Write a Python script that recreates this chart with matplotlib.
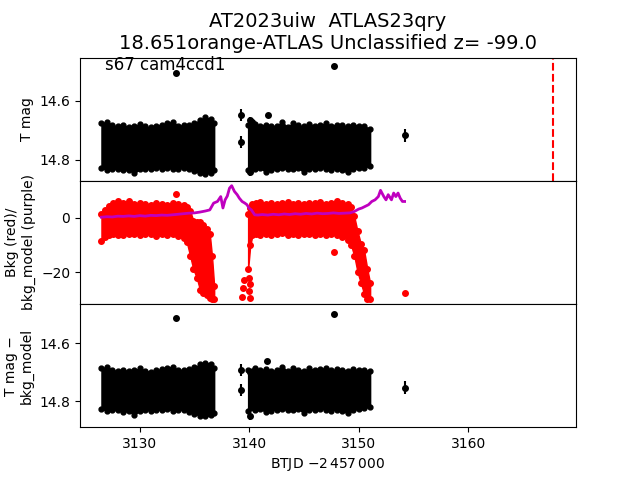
"""TESS light curve of AT2023uiw: raw mag, background vs model, and background-corrected mag."""

import matplotlib

matplotlib.use("Agg")
import matplotlib.pyplot as plt

# --- top panel: T mag, dense band drawn as its upper/lower envelope
mag1_t = [3126.5, 3127.0, 3127.5, 3128.0, 3128.5, 3129.0, 3129.5, 3130.0, 3130.5, 3131.0, 3131.5,
          3132.0, 3132.5, 3133.0, 3133.5, 3134.0, 3134.5, 3135.0, 3135.5, 3136.0, 3136.5, 3136.8]
mag1_hi = [14.676, 14.670, 14.683, 14.685, 14.682, 14.688, 14.685, 14.678, 14.686, 14.690, 14.684,
           14.680, 14.676, 14.670, 14.684, 14.682, 14.680, 14.676, 14.664, 14.656, 14.660, 14.676]
mag1_lo = [14.828, 14.834, 14.832, 14.830, 14.836, 14.834, 14.844, 14.832, 14.830, 14.832, 14.828,
           14.830, 14.826, 14.832, 14.830, 14.828, 14.832, 14.838, 14.846, 14.848, 14.844, 14.836]
mag2_t = [3139.9, 3140.5, 3141.0, 3141.5, 3142.0, 3142.5, 3143.0, 3143.5, 3144.0, 3144.5, 3145.0,
          3145.5, 3146.0, 3146.5, 3147.0, 3147.5, 3148.0, 3148.5, 3149.0, 3149.5, 3150.0, 3150.5, 3151.05]
mag2_hi = [14.680, 14.678, 14.684, 14.680, 14.686, 14.684, 14.672, 14.688, 14.676, 14.682, 14.686,
           14.678, 14.684, 14.680, 14.676, 14.684, 14.680, 14.682, 14.686, 14.680, 14.684, 14.686, 14.694]
mag2_lo = [14.836, 14.832, 14.828, 14.840, 14.836, 14.830, 14.828, 14.832, 14.830, 14.828, 14.842,
           14.830, 14.832, 14.828, 14.830, 14.834, 14.830, 14.836, 14.842, 14.832, 14.828, 14.826, 14.820]
mag_out_t = [3133.35, 3147.75, 3139.25, 3139.25, 3140.1, 3140.3, 3141.68, 3154.2, 3140.05]
mag_out = [14.506, 14.483, 14.647, 14.740, 14.664, 14.672, 14.647, 14.716, 14.840]
mag_out_err = [0.006, 0.006, 0.020, 0.020, 0.010, 0.010, 0.006, 0.022, 0.015]
discovery_t = 3167.8

# --- middle panel: background (red) and background model (purple)
bkg1_t = [3126.5, 3126.8, 3127.2, 3127.6, 3128.0, 3128.5, 3129.0, 3129.5, 3130.0, 3130.5, 3131.0,
          3131.5, 3132.0, 3132.5, 3133.0, 3133.5, 3134.0, 3134.3, 3134.6, 3134.9, 3135.2, 3135.5,
          3135.8, 3136.1, 3136.4, 3136.6, 3136.8]
bkg1_hi = [1.5, 3.0, 4.5, 5.4, 6.0, 5.5, 6.2, 5.0, 5.6, 5.2, 4.8, 5.5, 5.0, 4.6, 5.4, 5.0, 4.8, 4.0,
           2.5, -1.0, -1.5, -1.4, -2.5, -4.0, -6.0, -14.0, -25.0]
bkg1_lo = [-8.5, -7.0, -6.5, -6.0, -6.5, -6.2, -5.8, -6.0, -6.4, -5.8, -6.0, -6.6, -5.9, -6.2, -6.0,
           -6.8, -7.5, -9.0, -14.0, -19.0, -22.0, -26.5, -27.5, -28.5, -29.5, -30.0, -30.0]
bkg2_t = [3139.9, 3140.1, 3140.3, 3140.6, 3141.0, 3141.5, 3142.0, 3142.5, 3143.0, 3143.5, 3144.0,
          3144.5, 3145.0, 3145.5, 3146.0, 3146.5, 3147.0, 3147.5, 3148.0, 3148.5, 3149.0, 3149.3,
          3149.6, 3149.9, 3150.2, 3150.5, 3150.8, 3151.05]
bkg2_hi = [1.5, 3.5, 5.0, 5.4, 5.8, 5.2, 5.6, 5.0, 5.4, 5.8, 5.2, 5.5, 5.0, 5.6, 5.3, 5.8, 5.0, 5.5,
           6.2, 5.4, 5.0, 4.0, 0.5, -5.0, -9.5, -12.0, -19.0, -24.0]
bkg2_lo = [-19.0, -10.0, -6.5, -6.0, -6.3, -5.8, -6.5, -6.0, -5.7, -6.2, -6.0, -6.4, -5.8, -6.1, -6.5,
           -5.9, -6.2, -6.0, -6.4, -7.0, -8.0, -10.0, -14.0, -20.0, -24.0, -28.0, -30.0, -30.0]
bkg_out_t = [3133.35, 3139.35, 3139.45, 3139.5, 3139.95, 3140.05, 3139.95, 3140.1, 3147.75, 3154.25]
bkg_out = [8.8, -29.2, -25.8, -22.8, -22.0, -24.5, -27.0, -29.5, -12.4, -27.7]
model_t = [3126.5, 3127.0, 3127.5, 3128.0, 3128.5, 3129.0, 3129.5, 3130.0, 3130.5, 3131.0, 3131.5,
           3132.0, 3132.5, 3133.0, 3133.5, 3134.0, 3134.5, 3135.0, 3135.5, 3136.0, 3136.4, 3136.75,
           3137.1, 3137.4, 3137.6, 3137.8, 3138.0, 3138.2, 3138.4, 3138.65, 3138.9, 3139.1, 3139.35,
           3139.6, 3139.8, 3140.0, 3140.2, 3140.5, 3140.8, 3141.2, 3141.7, 3142.2, 3142.7, 3143.2,
           3143.7, 3144.2, 3144.7, 3145.2, 3145.7, 3146.2, 3146.7, 3147.2, 3147.7, 3148.2, 3148.7,
           3149.2, 3149.6, 3150.0, 3150.3, 3150.6, 3150.9, 3151.2, 3151.5, 3151.8, 3152.0, 3152.3,
           3152.5, 3152.7, 3153.0, 3153.2, 3153.4, 3153.6, 3153.8, 3154.0, 3154.2]
model_bkg = [0.2, 0.4, 0.3, 0.6, 0.5, 0.7, 0.5, 0.8, 0.6, 0.9, 0.8, 1.0, 0.9, 1.1, 1.3, 1.5, 1.7,
             1.8, 2.1, 2.5, 2.9, 5.4, 6.0, 7.8, 3.6, 6.6, 8.0, 10.9, 11.8, 9.7, 8.5, 7.2, 6.0, 5.4,
             4.8, 3.5, 2.9, 1.1, 1.0, 1.2, 1.0, 1.3, 1.1, 1.4, 1.2, 1.5, 1.3, 1.6, 1.4, 1.7, 1.5,
             1.6, 1.8, 1.6, 1.7, 1.8, 2.3, 3.2, 3.6, 4.2, 4.8, 6.0, 6.6, 7.8, 10.1, 7.8, 6.6, 8.5,
             6.6, 9.1, 7.8, 9.1, 7.2, 6.0, 6.0]

# --- bottom panel: T mag - bkg_model
det1_hi = [14.686, 14.680, 14.692, 14.694, 14.690, 14.696, 14.692, 14.686, 14.694, 14.698, 14.692,
           14.688, 14.684, 14.680, 14.692, 14.690, 14.688, 14.682, 14.672, 14.666, 14.670, 14.684]
det1_lo = [14.826, 14.832, 14.830, 14.830, 14.836, 14.834, 14.846, 14.832, 14.830, 14.832, 14.828,
           14.830, 14.826, 14.832, 14.830, 14.828, 14.836, 14.842, 14.850, 14.852, 14.848, 14.840]
det2_hi = [14.690, 14.684, 14.692, 14.688, 14.694, 14.692, 14.680, 14.696, 14.686, 14.690, 14.694,
           14.686, 14.692, 14.688, 14.684, 14.692, 14.688, 14.690, 14.694, 14.688, 14.692, 14.690, 14.696]
det2_lo = [14.832, 14.828, 14.826, 14.836, 14.832, 14.828, 14.826, 14.830, 14.828, 14.826, 14.840,
           14.828, 14.830, 14.826, 14.828, 14.832, 14.828, 14.834, 14.840, 14.830, 14.826, 14.824, 14.818]
det_out_t = [3133.35, 3147.75, 3139.25, 3139.25, 3140.1, 3141.65, 3154.2, 3140.1]
det_out = [14.514, 14.497, 14.692, 14.761, 14.700, 14.659, 14.753, 14.850]
det_out_err = [0.006, 0.006, 0.020, 0.020, 0.010, 0.006, 0.022, 0.015]


def _band(ax, t, hi, lo, color, ms):
    """Dense cloud of points: filled envelope with point-sized bumps on both edges."""
    ax.fill_between(t, lo, hi, facecolor=color, edgecolor=color, lw=1)
    ax.plot(t, hi, "o", color=color, ms=ms)
    ax.plot(t, lo, "o", color=color, ms=ms)


fig, axes = plt.subplots(3, 1, sharex=True, figsize=(6.4, 4.8))
fig.subplots_adjust(hspace=0)
ax1, ax2, ax3 = axes

_band(ax1, mag1_t, mag1_hi, mag1_lo, "k", 3.5)
_band(ax1, mag2_t, mag2_hi, mag2_lo, "k", 3.5)
ax1.errorbar(mag_out_t, mag_out, yerr=mag_out_err, fmt="o", color="k", ms=4)
ax1.axvline(discovery_t, color="r", ls="--", lw=1.5)
ax1.set_ylim(14.871, 14.453)
ax1.set_yticks([14.6, 14.8])
ax1.set_ylabel("T mag")
ax1.text(0.05, 0.9, "s67 cam4ccd1", transform=ax1.transAxes, fontsize=12)
ax1.set_title("AT2023uiw  ATLAS23qry\n18.651orange-ATLAS Unclassified z= -99.0", fontsize=14)

_band(ax2, bkg1_t, bkg1_hi, bkg1_lo, "r", 4)
_band(ax2, bkg2_t, bkg2_hi, bkg2_lo, "r", 4)
ax2.plot(bkg_out_t, bkg_out, "o", color="r", ms=4)
ax2.plot(model_t, model_bkg, color="m", lw=2)
ax2.set_ylim(-31.7, 13.6)
ax2.set_ylabel("Bkg (red)/\nbkg_model (purple)")

_band(ax3, mag1_t, det1_hi, det1_lo, "k", 3.5)
_band(ax3, mag2_t, det2_hi, det2_lo, "k", 3.5)
ax3.errorbar(det_out_t, det_out, yerr=det_out_err, fmt="o", color="k", ms=4)
ax3.set_ylim(14.889, 14.464)
ax3.set_yticks([14.6, 14.8])
ax3.set_ylabel("T mag \u2212\nbkg_model")
ax3.set_xlim(3124.54, 3169.86)
ax3.set_xticks([3130, 3140, 3150, 3160])
ax3.set_xlabel("BTJD $-2\\,457\\,000$")

for ax in (ax1, ax2):
    ax.tick_params(axis="x", bottom=False, labelbottom=False)

fig.savefig("out.png", dpi=100)
